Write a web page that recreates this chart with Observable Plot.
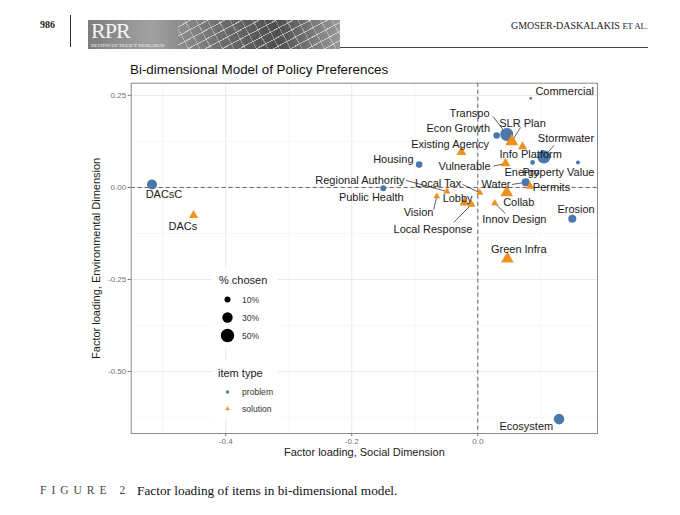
<!DOCTYPE html>
<html><head><meta charset="utf-8">
<script src="https://cdn.jsdelivr.net/npm/d3@7"></script>
<script src="https://cdn.jsdelivr.net/npm/@observablehq/plot@0.6"></script>
<style>
body{margin:0;background:#fff;}
#page{position:relative;width:680px;height:515px;overflow:hidden;background:#fff;font-family:"Liberation Sans",Arial,sans-serif;}
.abs{position:absolute;}
.serif{font-family:"Liberation Serif","Times New Roman",serif;}
</style></head><body>
<div id="page">
  <div class="abs serif" style="left:40px;top:19px;font-size:10px;font-weight:bold;color:#222;">986</div>
  <div class="abs" style="left:70px;top:15px;width:1px;height:32px;background:#333;"></div>
  <div class="abs" style="left:88px;top:20px;width:252px;height:29px;background:linear-gradient(90deg,#7d7d7d,#a2a2a2 25%,#6a6a6a 55%,#4e4e4e 75%,#9a9a9a);">
    <div class="abs" style="left:90px;top:0;width:162px;height:29px;background:repeating-linear-gradient(-28deg,rgba(255,255,255,0) 0 7px,rgba(255,255,255,.55) 7px 8px),repeating-linear-gradient(62deg,rgba(255,255,255,0) 0 9px,rgba(255,255,255,.35) 9px 10px);"></div>
    <div class="abs serif" style="left:3px;top:0px;font-size:22px;line-height:22px;color:#f4f4f4;letter-spacing:-1px;">RPR</div>
    <div class="abs serif" style="left:3px;top:22.5px;font-size:5px;line-height:5px;color:#f4f4f4;white-space:nowrap;">REVIEW OF POLICY RESEARCH</div>
  </div>
  <div class="abs" style="left:340px;top:47px;width:308px;height:1px;background:#444;"></div>
  <div class="abs serif" style="right:32px;top:20px;font-size:10px;color:#222;white-space:nowrap;">GMOSER-DASKALAKIS <span style="font-size:8.6px;">ET AL.</span></div>
  <div class="abs" style="left:130px;top:62px;font-size:13.4px;color:#111;white-space:nowrap;">Bi-dimensional Model of Policy Preferences</div>
  <div class="abs serif" style="left:40px;top:484px;font-size:11.5px;color:#444;letter-spacing:5px;white-space:nowrap;">FIGURE 2</div>
  <div class="abs serif" style="left:137px;top:483px;font-size:13.3px;color:#111;white-space:nowrap;">Factor loading of items in bi-dimensional model.</div>
</div>
<script>
// ---- data ----
const items = ["Commercial","Transpo","Econ Growth","SLR Plan","Existing Agency","Stormwater","Info Platform","Housing","Vulnerable","Energy","Property Value","Regional Authority","Local Tax","Water","Permits","Public Health","Lobby","Collab","Vision","Erosion","Innov Design","Local Response","Green Infra","DACsC","DACs","Ecosystem"];
const itemType = ["problem","problem","problem","solution","solution","problem","solution","problem","solution","problem","problem","solution","solution","problem","solution","problem","solution","solution","solution","problem","solution","solution","solution","problem","solution","problem"];
const social = [0.084,0.046,0.030,0.054,-0.026,0.105,0.071,-0.093,0.044,0.087,0.159,-0.049,0.003,0.076,0.083,-0.150,-0.021,0.046,-0.065,0.150,0.027,-0.010,0.047,-0.517,-0.451,0.129];
const environmental = [0.242,0.144,0.141,0.125,0.096,0.083,0.111,0.062,0.065,0.068,0.068,-0.011,-0.014,0.014,0.003,-0.002,-0.041,-0.014,-0.024,-0.085,-0.043,-0.046,-0.194,0.008,-0.076,-0.629];
const pctChosen = [2,47,12,26,15,50,13,12,15,6,4.5,8,8,18,11,10,15,25,7,18,8,10,25,28,13,31];
// repelled label anchors (data units)
const labelSocial = [0.138,-0.013,-0.031,0.071,-0.044,0.140,0.084,-0.134,-0.021,0.070,0.128,-0.187,-0.063,0.029,0.117,-0.169,-0.032,0.065,-0.094,0.156,0.058,-0.071,0.065,-0.498,-0.468,0.077];
const labelEnv = [0.261,0.202,0.159,0.175,0.118,0.132,0.090,0.075,0.057,0.042,0.042,0.020,0.012,0.007,0.001,-0.026,-0.029,-0.042,-0.069,-0.061,-0.087,-0.114,-0.169,-0.019,-0.106,-0.649];
// leader segments: item and label-side end (data units)
const segItems = ["Transpo","SLR Plan","Stormwater","Vulnerable","Regional Authority","Local Tax","Water","Vision","Innov Design","Local Response"];
const segEndSocial = [0.024,0.068,0.121,0.025,-0.114,-0.024,0.054,-0.070,0.044,-0.038];
const segEndEnv = [0.193,0.163,0.114,0.058,0.019,0.008,0.008,-0.060,-0.071,-0.095];
const xTicks = [-0.4,-0.2,0.0];
const yTicks = [0.25,0.00,-0.25,-0.50];
const xMinor = [-0.5,-0.3,-0.1,0.1];
const yMinor = [0.125,-0.125,-0.375,-0.625];
const sizeLegend = [10,30,50];
const typeLegend = ["problem","solution"];

const blue = "#4a78aa", orange = "#f0901f";
const data = items.map((d,i)=>({name:d,type:itemType[i],x:social[i],y:environmental[i],pct:pctChosen[i],lx:labelSocial[i],ly:labelEnv[i]}));
const segs = segItems.map((n,i)=>{const p=data.find(d=>d.name===n);return {x1:p.x,y1:p.y,x2:segEndSocial[i],y2:segEndEnv[i]};});

const rDomain=[0,50], rRange=[0,6.7];
const chart = Plot.plot({
  width:680, height:470,
  marginTop:82.7, marginLeft:130.7, marginRight:83, marginBottom:37,
  x:{domain:[-0.55,0.19]},
  y:{domain:[-0.668,0.283]},
  r:{type:"sqrt", domain:rDomain, range:rRange},
  color:{domain:typeLegend, range:[blue,orange]},
  symbol:{domain:typeLegend, range:["circle","triangle"]},
  style:{fontFamily:'"Liberation Sans",Arial,sans-serif', background:"transparent", overflow:"visible"},
  marks:[
    Plot.ruleX(xMinor,{stroke:"#f2f2f2",strokeWidth:0.6}),
    Plot.ruleY(yMinor,{stroke:"#f2f2f2",strokeWidth:0.6}),
    Plot.ruleX(xTicks,{stroke:"#e8e8e8",strokeWidth:1}),
    Plot.ruleY(yTicks,{stroke:"#e8e8e8",strokeWidth:1}),
    Plot.ruleX([0],{stroke:"#666",strokeWidth:1,strokeDasharray:"4,3"}),
    Plot.ruleY([0],{stroke:"#666",strokeWidth:1,strokeDasharray:"4,3"}),
    Plot.frame({stroke:"#8c8c8c",strokeWidth:1}),
    Plot.axisX(xTicks,{tickFormat:d=>d.toFixed(1),tickSize:3,tickPadding:2,fontSize:8,color:"#707070",label:null}),
    Plot.axisY(yTicks,{tickFormat:d=>d.toFixed(2),tickSize:3,tickPadding:2,fontSize:8,color:"#707070",label:null}),
    Plot.text(["Factor loading, Social Dimension"],{frameAnchor:"bottom",dy:22,fontSize:11,fill:"#1a1a1a",textAnchor:"middle"}),
    Plot.text(["Factor loading, Environmental Dimension"],{frameAnchor:"left",dx:-35,rotate:-90,fontSize:11,fill:"#1a1a1a",textAnchor:"middle"}),
    Plot.link(segs,{x1:"x1",y1:"y1",x2:"x2",y2:"y2",stroke:"#1a1a1a",strokeWidth:0.7}),
    Plot.dot(data,{x:"x",y:"y",r:"pct",fill:"type",symbol:"type",stroke:"none"}),
    Plot.text(data,{x:"lx",y:"ly",text:"name",fontSize:11,fill:"#1a1a1a"})
  ]
});
chart.classList.add("abs");
chart.style.left="0px"; chart.style.top="0px";
document.getElementById("page").appendChild(chart);

// ---- legend (overlay inside panel) ----
const rs = d3.scaleSqrt().domain(rDomain).range(rRange);
const leg = d3.select("#page").append("svg").attr("class","abs")
  .style("left","0px").style("top","0px").attr("width",680).attr("height",515);
leg.append("rect").attr("x",212).attr("y",268).attr("width",66).attr("height",80).attr("fill","#fff");
leg.append("rect").attr("x",212).attr("y",361).attr("width",66).attr("height",58).attr("fill","#fff");
leg.append("text").attr("x",219).attr("y",284).attr("font-size",11).attr("fill","#1a1a1a").text("% chosen");
sizeLegend.forEach((v,i)=>{
  const cy=[299.5,317.5,335.5][i];
  leg.append("circle").attr("cx",227.5).attr("cy",cy).attr("r",rs(v)).attr("fill","#000");
  leg.append("text").attr("x",242).attr("y",cy+3).attr("font-size",8.6).attr("fill","#333").text(v+"%");
});
leg.append("text").attr("x",218).attr("y",376.5).attr("font-size",11).attr("fill","#1a1a1a").text("item type");
typeLegend.forEach((t,i)=>{
  const cy=[392,409][i];
  const sym = d3.symbol(t==="problem"?d3.symbolCircle:d3.symbolTriangle, Math.PI*1.7*1.7);
  leg.append("path").attr("d",sym()).attr("transform",`translate(227.5,${cy})`).attr("fill",t==="problem"?blue:orange);
  leg.append("text").attr("x",242).attr("y",cy+3).attr("font-size",8.6).attr("fill","#333").text(t);
});
</script>
</body></html>
